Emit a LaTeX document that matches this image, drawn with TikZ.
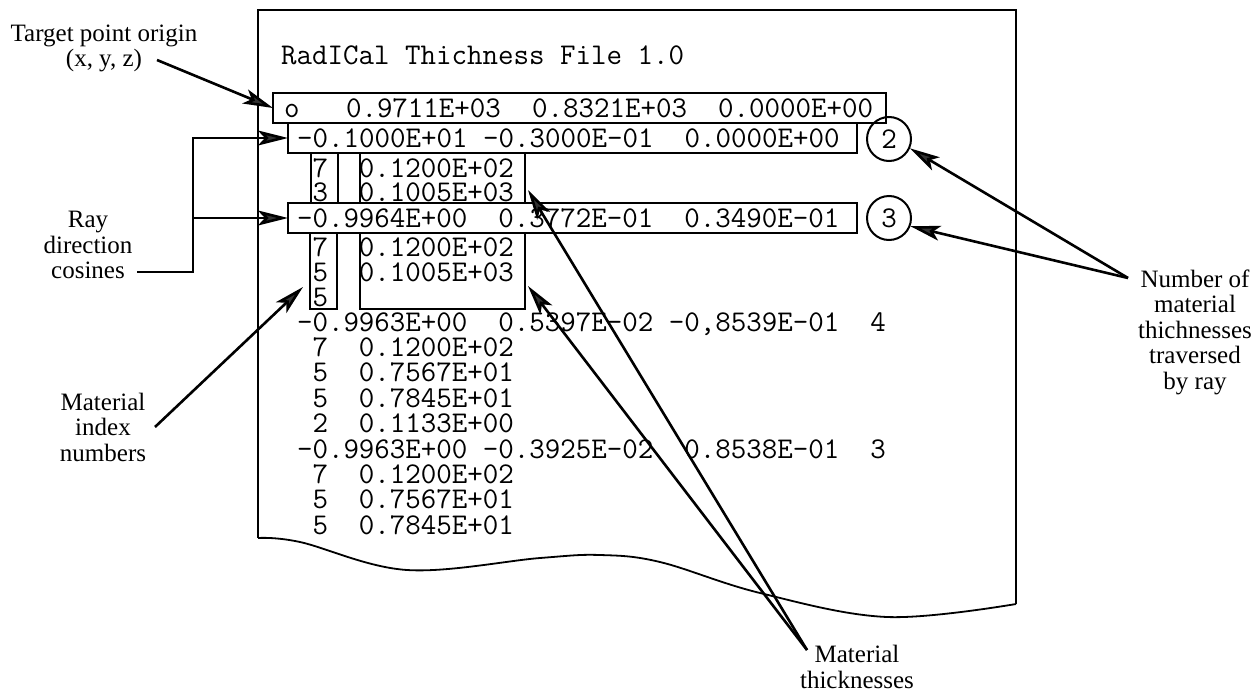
\documentclass[tikz,border=0pt]{standalone}
\usepackage{fontspec}
\setmainfont{Liberation Serif}
\usetikzlibrary{arrows.meta}
\newcommand\monof{\ttfamily\fontsize{30.1pt}{30pt}\selectfont\frenchspacing}
\newcommand\lblf{\fontsize{25pt}{25.5pt}\selectfont}
\newcommand\rowlines[2]{\vtop{\baselineskip=#1\lineskiplimit=-100pt\relax #2}}
\begin{document}
\begin{tikzpicture}[x=1pt,y=-1pt,
  row/.style={anchor=base west,inner sep=0pt,outer sep=0pt,font=\monof},
  frame/.style={draw,line width=1.6pt,inner sep=0pt,outer sep=0pt,anchor=north west},
  lbl/.style={align=center,font=\lblf,inner sep=0pt},
  conn/.style={line width=2.6pt,-{Stealth[length=30pt,width=15pt,inset=7pt,fill=black!80]}},
  numc/.style={circle,draw,line width=2pt,minimum size=44pt,inner sep=0pt,font=\monof}]
\useasboundingbox (0,0) rectangle (1257,693);
% page
\draw[line width=1.6pt] (258,538) -- (258,10) -- (1016,10) -- (1016,604);
\draw[line width=1.8pt] plot[smooth,tension=0.6] coordinates {(258,538) (300,542) (407,570) (540,558) (600,555) (660,562) (760,593) (887,617) (1016,604)};
% boxes
\node[frame,minimum width=613pt,minimum height=30pt] (obox) at (273,93) {};
\node[frame,minimum width=569pt,minimum height=30pt] (box2) at (288,123) {};
\node[frame,minimum width=27pt,minimum height=50pt] (idxA) at (311,153) {};
\node[frame,minimum width=165pt,minimum height=50pt] (thA) at (360,153) {};
\node[frame,minimum width=569pt,minimum height=30pt] (box3) at (288,203) {};
\node[frame,minimum width=27pt,minimum height=76pt] (idxB) at (310,233) {};
\node[frame,minimum width=165pt,minimum height=76pt] (thB) at (360,233) {};
% rows
\node[row] (r0) at (281,64) {RadICal~Thichness~File~1.0};
\node[row] (r1) at (284,117) {o~~~0.9711E+03~~0.8321E+03~~0.0000E+00};
\node[row] (r2) at (297,147) {-0.1000E+01~-0.3000E-01~~0.0000E+00};
\node[row] (gA) at (297,177) {\rowlines{24pt}{\hbox{~7~~0.1200E+02}\hbox{~3~~0.1005E+03}}};
\node[row] (r5) at (297,227) {-0.9964E+00~~0.3772E-01~~0.3490E-01};
\node[row] (gB) at (297,256) {\rowlines{25pt}{\hbox{~7~~0.1200E+02}\hbox{~5~~0.1005E+03}\hbox{~5}}};
\node[row] (rest) at (297,331) {\rowlines{25.4pt}{%
  \hbox{-0.9963E+00~~0.5397E-02~-0,8539E-01~~4}%
  \hbox{~7~~0.1200E+02}%
  \hbox{~5~~0.7567E+01}%
  \hbox{~5~~0.7845E+01}%
  \hbox{~2~~0.1133E+00}%
  \hbox{-0.9963E+00~-0.3925E-02~~0.8538E-01~~3}%
  \hbox{~7~~0.1200E+02}%
  \hbox{~5~~0.7567E+01}%
  \hbox{~5~~0.7845E+01}}};
% circles
\node[numc] (c2) at (889,139) {2};
\node[numc] (c3) at (889,218) {3};
% labels
\node[lbl] (tplbl) at (104,48.5) {Target point origin\\(x, y, z)};
\node[lbl] (raylbl) at (88,245) {Ray\\direction\\cosines};
\node[lbl] (milbl) at (103,427) {Material\\index\\numbers};
\node[lbl] (numlbl) at (1195,332) {Number of\\material\\thichnesses\\traversed\\by ray};
\node[lbl] (mtlbl) at (857,667) {Material\\thicknesses};
% connector ends
\coordinate (tpstart) at (157,60);
\coordinate (raystart) at (137,272);
\coordinate (rayj) at (193,272);
\coordinate (mistart) at (155,427);
\coordinate (idxtip) at (303,287);
\coordinate (mtstart) at (807,650);
\coordinate (t1) at (528,190);
\coordinate (t2) at (528,286);
\coordinate (nstart) at (1128,278);
% connectors
\draw[conn] (tpstart) -- (obox.west);
\draw[conn] (raystart) -- (rayj) |- (box2.west);
\draw[conn] (rayj |- box3.west) -- (box3.west);
\draw[conn] (mistart) -- (idxtip);
\draw[conn] (mtstart) -- (t1);
\draw[conn] (mtstart) -- (t2);
\draw[conn] (nstart) -- (c2.-24);
\draw[conn] (nstart) -- (c3.-21);
\end{tikzpicture}
\end{document}
